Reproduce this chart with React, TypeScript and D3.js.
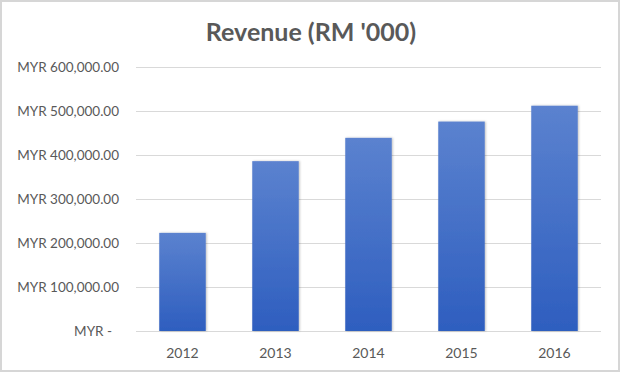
import React from "react";
import * as d3 from "d3";

const years = ["2012", "2013", "2014", "2015", "2016"];
const revenue = [223000, 386000, 439000, 476000, 512000];
const yTicks = [0, 100000, 200000, 300000, 400000, 500000, 600000];
const title = "Revenue (RM '000)";

const W = 620;
const H = 373;
const FONT = "Lato, 'Open Sans', sans-serif";

export default function App() {
  const x = d3
    .scaleBand<string>()
    .domain(years)
    .range([136, 601])
    .paddingInner(0.5)
    .paddingOuter(0.25);
  const y = d3.scaleLinear().domain([0, 600000]).range([331, 67]);
  const fmt = (v: number) =>
    v === 0 ? "MYR -" : "MYR " + d3.format(",.2f")(v);

  return (
    <svg
      width={W}
      height={H}
      style={{ position: "fixed", left: 0, top: 0, background: "#fff" }}
    >
      <defs>
        <linearGradient id="barGrad" x1="0" y1="0" x2="0" y2="1">
          <stop offset="0" stopColor="#5b82cf" />
          <stop offset="1" stopColor="#2e5ebf" />
        </linearGradient>
        <filter id="shadow" x="-20%" y="-5%" width="140%" height="110%">
          <feDropShadow dx="1" dy="0" stdDeviation="1" floodColor="#000" floodOpacity="0.25" />
        </filter>
      </defs>
      <rect x={1} y={1} width={W - 2} height={H - 3} fill="#fff" stroke="#d6d6d6" strokeWidth={2} />
      <text
        x={311}
        y={41}
        textAnchor="middle"
        fontFamily={FONT}
        fontWeight="bold"
        fontSize={25}
        fill="#595959"
      >
        {title}
      </text>
      {yTicks.map((t) => (
        <g key={t}>
          <line
            x1={136}
            x2={601}
            y1={y(t) + 0.5}
            y2={y(t) + 0.5}
            stroke="#d9d9d9"
            strokeWidth={1}
          />
          <text
            x={t === 0 ? 112 : 119}
            y={y(t)}
            dy="0.35em"
            textAnchor="end"
            fontFamily={FONT}
            fontSize={13.5}
            fill="#595959"
          >
            {fmt(t)}
          </text>
        </g>
      ))}
      {years.map((yr, i) => (
        <rect
          key={yr}
          x={x(yr)}
          y={y(revenue[i])}
          width={x.bandwidth()}
          height={y(0) - y(revenue[i])}
          fill="url(#barGrad)"
          filter="url(#shadow)"
        />
      ))}
      {years.map((yr) => (
        <text
          key={yr}
          x={(x(yr) as number) + x.bandwidth() / 2}
          y={358}
          textAnchor="middle"
          fontFamily={FONT}
          fontSize={14}
          fill="#595959"
        >
          {yr}
        </text>
      ))}
    </svg>
  );
}
